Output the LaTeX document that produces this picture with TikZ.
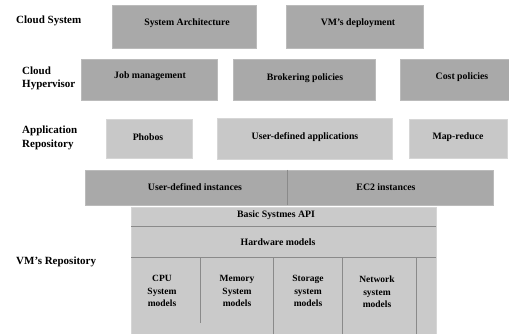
\documentclass[tikz,border=0pt]{standalone}
\usepackage{fontspec}
\setmainfont{Liberation Serif}
\begin{document}
\begin{tikzpicture}[x=1pt,y=-1pt,
  dark/.style={fill=boxdark,draw=edgedark,line width=0.8pt},
  light/.style={fill=boxlight,draw=edgelight,line width=0.8pt},
  repo/.style={fill=repofill,draw=edgelight,line width=0.6pt},
  boxtext/.style={font=\fontsize{9.8}{11}\selectfont\bfseries,inner sep=0pt},
  celltext/.style={font=\fontsize{9.5}{12.3}\selectfont\bfseries,align=center,inner sep=0pt},
  sidelabel/.style={font=\fontsize{11}{13.5}\selectfont\bfseries,align=left,anchor=west,inner sep=0pt},
  divider/.style={draw=divcol,line width=0.7pt}]
\definecolor{boxdark}{HTML}{A9A9A9}
\definecolor{edgedark}{HTML}{BBBBBB}
\definecolor{boxlight}{HTML}{C8C8C8}
\definecolor{edgelight}{HTML}{D6D6D6}
\definecolor{repofill}{HTML}{CACACA}
\definecolor{divcol}{HTML}{8A8A8A}
\useasboundingbox[fill=white] (0,0) rectangle (509,334);

% side labels
\node[sidelabel] (l1) at (16,21) {Cloud System};
\node[sidelabel] (l2) at (22,78.5) {Cloud\\Hypervisor};
\node[sidelabel] (l3) at (22,138) {Application\\Repository};
\node[sidelabel] (l4) at (16,262) {VM's Repository};

% Cloud System row
\path[dark] (112,5) rectangle (256,48);
\node[boxtext] (sa) at (187,23) {System Architecture};
\path[dark] (286,5) rectangle (423,48);
\node[boxtext] (vd) at (358,23) {VM's deployment};

% Hypervisor row
\path[dark] (81,59) rectangle (217,100);
\node[boxtext] (jm) at (150,76) {Job management};
\path[dark] (233,59) rectangle (375,100);
\node[boxtext] (bp) at (305,78) {Brokering policies};
\path[dark] (400,59) rectangle (512,100);
\node[boxtext] (cp) at (462,77) {Cost policies};

% Application row
\path[light] (106,119) rectangle (192,158);
\node[boxtext] (ph) at (148,137) {Phobos};
\path[light] (217,118) rectangle (392,159);
\node[boxtext] (ua) at (305,137) {User-defined applications};
\path[light] (409,119) rectangle (507,158);
\node[boxtext] (mr) at (458,137) {Map-reduce};

% Instances
\path[dark] (85,170) rectangle (493,205);
\draw[divider] (287,170) -- (287,205);
\node[boxtext] (ui) at (195,187) {User-defined instances};
\node[boxtext] (ec) at (386,187) {EC2 instances};

% VM repository block
\path[repo] (131,207) rectangle (436,335);
\draw[divider] (131,226) -- (436,226);
\draw[divider] (131,257) -- (436,257);
\draw[divider] (200,257) -- (200,323);
\draw[divider] (273,257) -- (273,335);
\draw[divider] (342,257) -- (342,335);
\draw[divider] (416,257) -- (416,335);
\node[boxtext] (api) at (276,215) {Basic Systmes API};
\node[boxtext] (hw) at (278,242) {Hardware models};
\node[celltext] (cpu) at (162,291) {CPU\\System\\models};
\node[celltext] (mem) at (237,291) {Memory\\System\\models};
\node[celltext] (sto) at (308,291) {Storage\\system\\models};
\node[celltext] (net) at (377,292) {Network\\system\\models};
\end{tikzpicture}
\end{document}
